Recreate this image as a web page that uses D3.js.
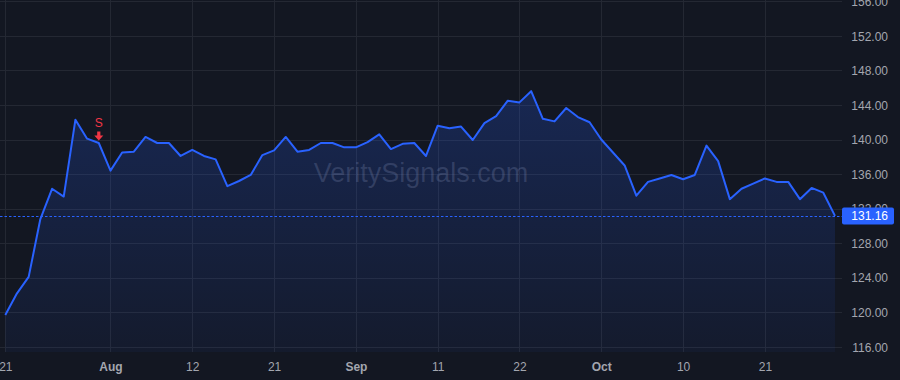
<!DOCTYPE html>
<html>
<head>
<meta charset="utf-8">
<script src="https://cdn.jsdelivr.net/npm/d3@7"></script>
<style>
  html, body { margin: 0; padding: 0; background: #131722; }
  svg { display: block; }
</style>
</head>
<body>
<svg id="chart" width="900" height="380"></svg>
<script>
// ---- DATA ----
const dates = [
  "2025-07-21","2025-07-22","2025-07-23","2025-07-24","2025-07-25","2025-07-28","2025-07-29","2025-07-30","2025-07-31",
  "2025-08-01","2025-08-04","2025-08-05","2025-08-06","2025-08-07","2025-08-08","2025-08-11","2025-08-12","2025-08-13",
  "2025-08-14","2025-08-15","2025-08-18","2025-08-19","2025-08-20","2025-08-21","2025-08-22","2025-08-25","2025-08-26",
  "2025-08-27","2025-08-28","2025-08-29",
  "2025-09-02","2025-09-03","2025-09-04","2025-09-05","2025-09-08","2025-09-09","2025-09-10","2025-09-11","2025-09-12",
  "2025-09-15","2025-09-16","2025-09-17","2025-09-18","2025-09-19","2025-09-22","2025-09-23","2025-09-24","2025-09-25",
  "2025-09-26","2025-09-29","2025-09-30",
  "2025-10-01","2025-10-02","2025-10-03","2025-10-06","2025-10-07","2025-10-08","2025-10-09","2025-10-10","2025-10-13",
  "2025-10-14","2025-10-15","2025-10-16","2025-10-17","2025-10-20","2025-10-21","2025-10-22","2025-10-23","2025-10-24",
  "2025-10-27","2025-10-28","2025-10-29"
];
const closes = [
  119.7,122.2,124.1,130.8,134.3,133.4,142.3,140.1,139.6,
  136.4,138.5,138.6,140.3,139.6,139.6,138.1,138.8,138.1,
  137.7,134.6,135.2,135.9,138.2,138.75,140.3,138.6,138.8,
  139.6,139.6,139.1,
  139.1,139.7,140.6,138.9,139.5,139.6,138.1,141.6,141.3,
  141.5,139.95,141.9,142.7,144.5,144.3,145.6,142.4,142.1,
  143.65,142.6,142.0,
  140.0,138.5,137.0,133.5,135.1,135.5,135.9,135.4,135.9,
  139.3,137.5,133.1,134.3,134.9,135.5,135.1,135.1,133.1,
  134.4,133.85,131.16
];
const yTicks = [116,120,124,128,132,136,140,144,148,152,156];
const xTickDates = ["2025-07-21","2025-08-01","2025-08-12","2025-08-21","2025-09-02","2025-09-11","2025-09-22","2025-10-01","2025-10-10","2025-10-21"];
const xTickLabels = ["21","Aug","12","21","Sep","11","22","Oct","10","21"];
const xTickBold = [false,true,false,false,true,false,false,true,false,false];
const signalDates = ["2025-07-31"];
const signalLabels = ["S"];
const lastPrice = 131.16;
const watermark = "VeritySignals.com";

// ---- LAYOUT ----
const W = 900, H = 380;
const plotRight = 842, plotBottom = 352;
const svg = d3.select("#chart");
const font = "'Liberation Sans', Arial, sans-serif";

const x = d3.scalePoint().domain(dates).range([5.3, 835]).padding(0);
const y = d3.scaleLinear().domain([116, 156]).range([346.9, 1.3]);

const data = dates.map((d, i) => ({ d, v: closes[i] }));

// background
svg.append("rect").attr("width", W).attr("height", H).attr("fill", "#131722");

// gradient
const defs = svg.append("defs");
const grad = defs.append("linearGradient").attr("id", "areaGrad")
  .attr("gradientUnits", "userSpaceOnUse")
  .attr("x1", 0).attr("x2", 0).attr("y1", y(146)).attr("y2", plotBottom);
grad.append("stop").attr("offset", "0%").attr("stop-color", "#2962ff").attr("stop-opacity", 0.22);
grad.append("stop").attr("offset", "100%").attr("stop-color", "#2962ff").attr("stop-opacity", 0.05);

// grid
const grid = svg.append("g");
grid.selectAll("line.h").data(yTicks).join("line")
  .attr("x1", 0).attr("x2", plotRight)
  .attr("y1", d => Math.round(y(d)) + 0.5).attr("y2", d => Math.round(y(d)) + 0.5)
  .attr("stroke", "#242833").attr("stroke-width", 1);
grid.selectAll("line.v").data(xTickDates).join("line")
  .attr("x1", d => Math.round(x(d)) + 0.5).attr("x2", d => Math.round(x(d)) + 0.5)
  .attr("y1", 0).attr("y2", plotBottom)
  .attr("stroke", "#242833").attr("stroke-width", 1);

// watermark
svg.append("text").text(watermark)
  .attr("x", 421).attr("y", 181.5)
  .attr("text-anchor", "middle")
  .attr("font-family", font).attr("font-size", 27)
  .attr("fill", "#8a8fa0").attr("fill-opacity", 0.28);

// area
const area = d3.area().x(d => x(d.d)).y0(plotBottom).y1(d => y(d.v));
svg.append("path").datum(data).attr("d", area).attr("fill", "url(#areaGrad)");

// price line (dotted)
svg.append("line")
  .attr("x1", 0).attr("x2", plotRight)
  .attr("y1", Math.round(y(lastPrice)) + 0.5).attr("y2", Math.round(y(lastPrice)) + 0.5)
  .attr("stroke", "#2962ff").attr("stroke-width", 1).attr("stroke-dasharray", "2.5,2");

// line
const line = d3.line().x(d => x(d.d)).y(d => y(d.v));
svg.append("path").datum(data).attr("d", line)
  .attr("fill", "none").attr("stroke", "#2962ff").attr("stroke-width", 2)
  .attr("stroke-linejoin", "round");

// signal markers
signalDates.forEach((sd, i) => {
  const px = x(sd);
  const idx = dates.indexOf(sd);
  const py = y(closes[idx]);
  const tip = py - 2.5;
  const g = svg.append("g").attr("fill", "#f23645");
  g.append("path").attr("d",
    `M${px - 1.6},${tip - 9} L${px + 1.6},${tip - 9} L${px + 1.6},${tip - 5} L${px + 4.5},${tip - 5} L${px},${tip} L${px - 4.5},${tip - 5} L${px - 1.6},${tip - 5} Z`);
  g.append("text").text(signalLabels[i])
    .attr("x", px).attr("y", tip - 13)
    .attr("text-anchor", "middle")
    .attr("font-family", font).attr("font-size", 12);
});

// y axis (right)
const yAxis = d3.axisRight(y).tickValues(yTicks).tickSize(0).tickFormat(d3.format(".2f"));
const gy = svg.append("g").attr("transform", `translate(${plotRight},0)`).call(yAxis);
gy.select(".domain").remove();
gy.selectAll("text")
  .attr("x", 46).attr("text-anchor", "end").attr("dy", "0.35em")
  .attr("font-family", font).attr("font-size", 12).attr("fill", "#a3a6af");

// x axis
const labelMap = new Map(xTickDates.map((d, i) => [d, xTickLabels[i]]));
const boldMap = new Map(xTickDates.map((d, i) => [d, xTickBold[i]]));
const xAxis = d3.axisBottom(x).tickValues(xTickDates).tickSize(0).tickFormat(d => labelMap.get(d));
const gx = svg.append("g").attr("transform", `translate(0,${plotBottom})`).call(xAxis);
gx.select(".domain").remove();
gx.selectAll("text")
  .attr("y", 15).attr("dy", "0.35em")
  .attr("font-family", font).attr("font-size", 12)
  .attr("font-weight", d => boldMap.get(d) ? "bold" : "normal")
  .attr("fill", "#a3a6af");

// last price label
const ly = y(lastPrice);
svg.append("rect")
  .attr("x", plotRight).attr("y", ly - 8.5).attr("width", 52).attr("height", 17)
  .attr("rx", 2).attr("fill", "#2962ff");
svg.append("text").text(d3.format(".2f")(lastPrice))
  .attr("x", 888).attr("y", ly).attr("dy", "0.35em")
  .attr("text-anchor", "end")
  .attr("font-family", font).attr("font-size", 12).attr("fill", "#ffffff");
</script>
</body>
</html>
